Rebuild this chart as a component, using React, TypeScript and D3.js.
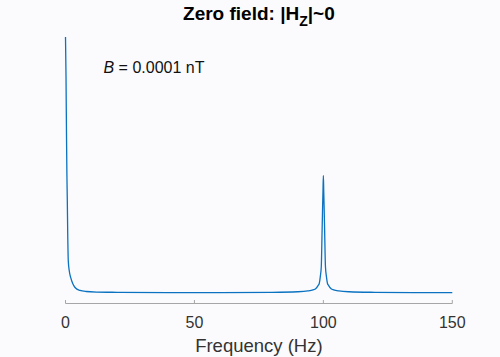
import React from "react";
import * as d3 from "d3";

const freqHz = [0, 0.2, 0.4, 0.55, 0.7, 0.85, 1.08, 1.5, 2, 2.8, 3.7, 5.6, 8, 12, 20, 40, 60, 80, 90, 94, 96, 97, 98, 98.4, 98.8, 99.2, 99.5, 99.7, 99.85, 100, 100.15, 100.3, 100.5, 100.8, 101.2, 101.6, 102, 103, 104, 106, 110, 120, 135, 150];
const amplitude = [1.0, 0.85, 0.62, 0.48, 0.387, 0.27, 0.16, 0.12, 0.098, 0.075, 0.06, 0.049, 0.045, 0.043, 0.042, 0.041, 0.041, 0.042, 0.044, 0.047, 0.051, 0.055, 0.068, 0.075, 0.1, 0.14, 0.27, 0.36, 0.42, 0.481, 0.42, 0.36, 0.27, 0.14, 0.1, 0.075, 0.068, 0.055, 0.051, 0.047, 0.044, 0.042, 0.041, 0.041];
const xTicks = [0, 50, 100, 150];
const titleMain = "Zero field: |H";
const titleSub = "Z";
const titleEnd = "|~0";
const annotationVar = "B";
const annotationText = " = 0.0001 nT";
const xLabel = "Frequency (Hz)";

const W = 500;
const H = 357;
const left = 65.5;
const right = 452.3;
const axisY = 303.5;
const topY = 37;

export default function App() {
  const x = d3.scaleLinear().domain([0, 150]).range([left, right]);
  const y = d3.scaleLinear().domain([0, 1]).range([axisY, topY]);
  const pts = freqHz.map((f, i) => [f, amplitude[i]] as [number, number]);
  const line = d3
    .line<[number, number]>()
    .x((d) => x(d[0]))
    .y((d) => y(d[1]))
    .curve(d3.curveMonotoneX);
  const font = "'Liberation Sans', Arial, Helvetica, sans-serif";
  return (
    <svg
      width={W}
      height={H}
      style={{ position: "absolute", left: 0, top: 0, background: "#fbfbfd" }}
      fontFamily={font}
    >
      <rect x={0} y={0} width={W} height={H} fill="#fbfbfd" />
      <path d={line(pts) || ""} fill="none" stroke="#0a72c0" strokeWidth={1.3} />
      <line x1={left} x2={right} y1={axisY} y2={axisY} stroke="#a6a6a6" strokeWidth={1} />
      {xTicks.map((t) => (
        <g key={t}>
          <line x1={x(t)} x2={x(t)} y1={axisY} y2={axisY - 3.5} stroke="#a6a6a6" strokeWidth={1} />
          <text x={x(t)} y={328} textAnchor="middle" fontSize={16} fill="#333">
            {t}
          </text>
        </g>
      ))}
      <text x={(left + right) / 2} y={352} textAnchor="middle" fontSize={18.5} fill="#333">
        {xLabel}
      </text>
      <text x={(left + right) / 2} y={20} textAnchor="middle" fontSize={19} fontWeight="bold" fill="#000">
        {titleMain}
        <tspan fontSize={14} dy={6}>{titleSub}</tspan>
        <tspan dy={-6}>{titleEnd}</tspan>
      </text>
      <text x={103.5} y={72.5} fontSize={16} fill="#111">
        <tspan fontStyle="italic">{annotationVar}</tspan>
        {annotationText}
      </text>
    </svg>
  );
}
